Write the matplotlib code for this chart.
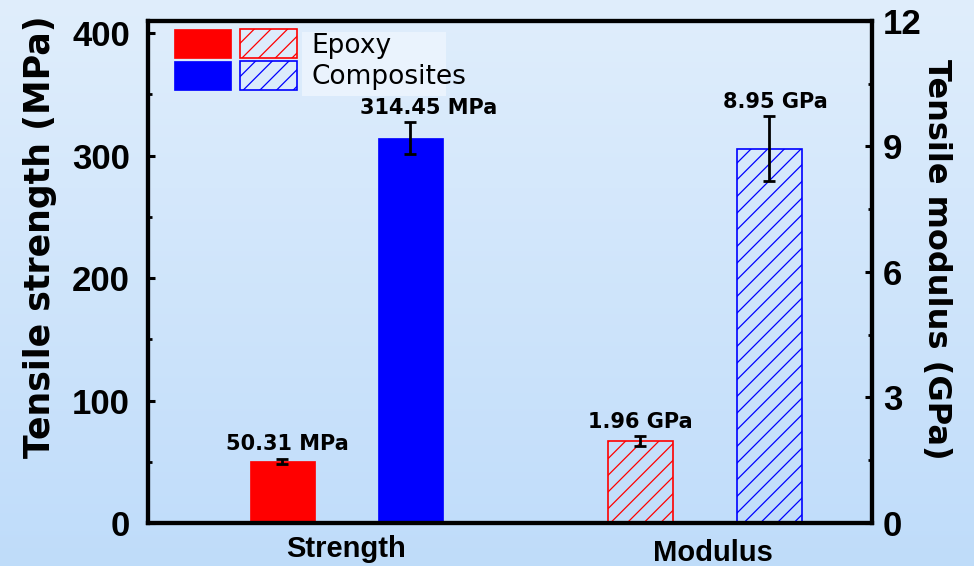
import numpy as np
import matplotlib.pyplot as plt
from matplotlib.patches import Patch, Rectangle
from matplotlib.legend_handler import HandlerTuple

# tensile test results
groups = ["Strength", "Modulus"]
materials = ["Epoxy", "Composites"]
strength = [50.31, 314.45]      # MPa
strength_err = [2.3, 13.0]
modulus = [1.96, 8.95]          # GPa
modulus_err = [0.12, 0.78]
strength_text = ["50.31 MPa", "314.45 MPa"]
modulus_text = ["1.96 GPa", "8.95 GPa"]
colors = ["#ff0000", "#0000ff"]

plt.rcParams["hatch.linewidth"] = 0.9

fig = plt.figure(figsize=(9.74, 5.66), dpi=100)

# soft blue vertical gradient behind everything
bg = fig.add_axes([0, 0, 1, 1], zorder=-10)
top = np.array([0.878, 0.933, 0.988])
bottom = np.array([0.749, 0.863, 0.980])
t = np.linspace(0, 1, 256)[:, None]
grad = top * (1 - t) + bottom * t
bg.imshow(grad[:, None, :], aspect="auto", extent=[0, 1, 0, 1])
bg.axis("off")

ax = fig.add_axes([0.152, 0.076, 0.743, 0.887])
ax.patch.set_alpha(0)
ax2 = ax.twinx()

x_str = [1.05, 2.05]
x_mod = [3.85, 4.86]
w = 0.51

for i in range(2):
    ax.bar(x_str[i], strength[i], w, color=colors[i], edgecolor=colors[i], linewidth=0.5)
    ax.errorbar(x_str[i], strength[i], yerr=strength_err[i], fmt="none", ecolor="black",
                elinewidth=2, capsize=4.5, capthick=2)
    ax2.bar(x_mod[i], modulus[i], w, facecolor="none", edgecolor=colors[i],
            hatch="//", linewidth=1.2)
    ax2.errorbar(x_mod[i], modulus[i], yerr=modulus_err[i], fmt="none", ecolor="black",
                 elinewidth=2, capsize=4.5, capthick=2)

# value labels above the error bars
str_dx = [4, 13]
mod_dx = [0, 4]
for i in range(2):
    ax.annotate(strength_text[i], (x_str[i], strength[i] + strength_err[i]),
                xytext=(str_dx[i], 6), textcoords="offset points", ha="center",
                va="baseline", fontsize=15, fontweight="bold", family="DejaVu Sans")
    ax2.annotate(modulus_text[i], (x_mod[i], modulus[i] + modulus_err[i]),
                 xytext=(mod_dx[i], 6), textcoords="offset points", ha="center",
                 va="baseline", fontsize=15, fontweight="bold", family="DejaVu Sans")

ax.set_xlim(0, 5.66)
ax.set_ylim(0, 410)
ax2.set_ylim(0, 12)

ax.set_xticks([])
ax.set_yticks(np.arange(0, 401, 100))
ax.set_yticks(np.arange(0, 401, 50), minor=True)
ax2.set_yticks(np.arange(0, 13, 3))
ax2.set_yticks(np.arange(0, 12.1, 1.5), minor=True)

for a in (ax, ax2):
    for s in a.spines.values():
        s.set_linewidth(3)
    a.tick_params(which="major", direction="in", length=5, width=2.2, labelsize=25)
    a.tick_params(which="minor", direction="in", length=3, width=2)
ax.tick_params(axis="y", pad=13)
ax2.tick_params(axis="y", pad=8)
for lab in ax.get_yticklabels() + ax2.get_yticklabels():
    lab.set_fontweight("bold")
    lab.set_family("Liberation Sans")

ax.set_ylabel("Tensile strength (MPa)", fontsize=25, fontweight="bold",
              family="DejaVu Sans", va="center", ha="center")
ax.yaxis.set_label_coords(-0.149, 0.57)
ax2.set_ylabel("Tensile modulus (GPa)", fontsize=23, fontweight="bold",
               family="DejaVu Sans", rotation=270, va="center", ha="center")
ax2.yaxis.set_label_coords(1.09, 0.526)

# group names under the axis
grp_x = [1.55, 4.355]
grp_dx = [0, 6]
grp_dy = [-24.5, -27.5]
for i, g in enumerate(groups):
    ax.annotate(g, (grp_x[i], 0), xycoords=("data", "axes fraction"),
                xytext=(grp_dx[i], grp_dy[i]), textcoords="offset points",
                ha="center", va="baseline", fontsize=21, fontweight="bold",
                family="Liberation Sans", annotation_clip=False)

# legend: solid (strength) and hatched (modulus) swatch per material
ax2.add_patch(Rectangle((0.2127, 0.8506), 0.199, 0.1275, transform=ax2.transAxes,
                        facecolor="#eaf3fd", edgecolor="none", zorder=4))
handles = []
for c in colors:
    solid = Patch(facecolor=c, edgecolor=c, linewidth=0.5)
    hatched = Patch(facecolor="none", edgecolor=c, hatch="//", linewidth=1.2)
    handles.append((solid, hatched))
leg = ax2.legend(handles, materials, handler_map={tuple: HandlerTuple(ndivide=None, pad=0.34)},
                 loc="upper left", bbox_to_anchor=(0.036, 0.983), frameon=False,
                 borderpad=0, borderaxespad=0, handlelength=4.66, handleheight=1.3,
                 handletextpad=0.53, labelspacing=0.08,
                 prop={"family": "DejaVu Sans", "size": 19})
leg.set_zorder(5)

fig.savefig("out.png", dpi=100)
